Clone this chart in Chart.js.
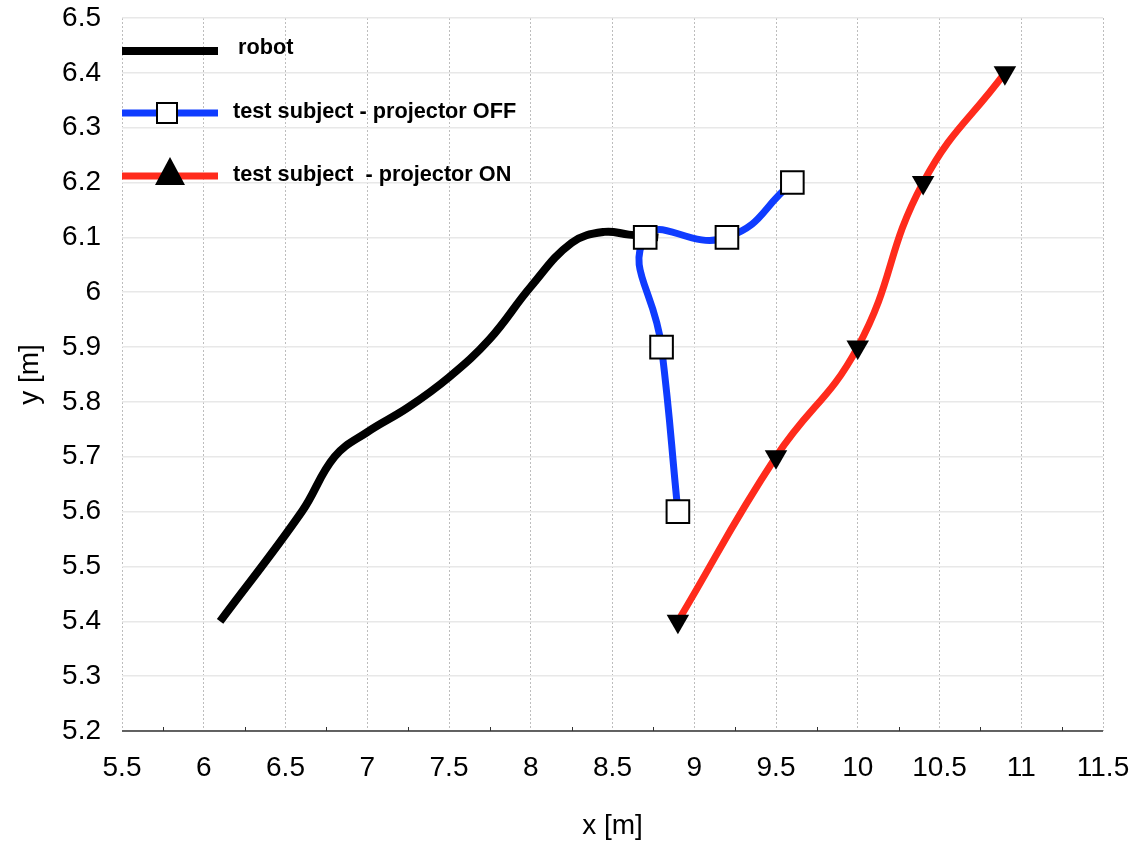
<!DOCTYPE html>
<html>
<head>
<meta charset="utf-8">
<script src="https://cdn.jsdelivr.net/npm/chart.js@4/dist/chart.umd.min.js"></script>
<style>
  html, body { margin: 0; padding: 0; background: #fff; }
  #wrap { width: 1140px; height: 843px; }
</style>
</head>
<body>
<div id="wrap"><canvas id="traj" width="1140" height="843"></canvas></div>
<script>
// trajectories (metres)
const robotX = [6.1, 6.6, 6.8, 7.0, 7.25, 7.5, 7.75, 8.0, 8.25, 8.45, 8.6, 8.78];
const robotY = [5.4, 5.6, 5.7, 5.745, 5.79, 5.845, 5.915, 6.01, 6.09, 6.11, 6.105, 6.1];

const offX = [8.9, 8.8, 8.7, 9.2, 9.6];
const offY = [5.6, 5.9, 6.1, 6.1, 6.2];

const onX = [8.9, 9.5, 10.0, 10.4, 10.9];
const onY = [5.4, 5.7, 5.9, 6.2, 6.4];

const xTicks = [5.5, 6, 6.5, 7, 7.5, 8, 8.5, 9, 9.5, 10, 10.5, 11, 11.5];
const yTicks = [5.2, 5.3, 5.4, 5.5, 5.6, 5.7, 5.8, 5.9, 6, 6.1, 6.2, 6.3, 6.4, 6.5];

const seriesNames = ['robot', 'test subject - projector OFF', 'test subject  - projector ON'];

const BLACK = '#000000';
const BLUE = '#0f3cff';
const RED = '#ff2b1c';

const toPts = (xs, ys) => xs.map((x, i) => ({ x, y: ys[i] }));

// legend drawn inside the plot, top-left, like the original
const legendPlugin = {
  id: 'insideLegend',
  afterDraw(chart) {
    const c = chart.ctx;
    const rows = [
      { y: 51, color: BLACK, marker: null, tx: 238 },
      { y: 113, color: BLUE, marker: 'square', tx: 233 },
      { y: 176, color: RED, marker: 'triangle', tx: 233 }
    ];
    c.save();
    rows.forEach((r, i) => {
      c.strokeStyle = r.color;
      c.lineWidth = i === 0 ? 8 : 7;
      c.beginPath();
      c.moveTo(122, r.y);
      c.lineTo(218, r.y);
      c.stroke();
      if (r.marker === 'square') {
        c.fillStyle = '#fff';
        c.strokeStyle = '#000';
        c.lineWidth = 2;
        c.fillRect(157, r.y - 10, 20, 20);
        c.strokeRect(157, r.y - 10, 20, 20);
      } else if (r.marker === 'triangle') {
        c.fillStyle = '#000';
        c.beginPath();
        c.moveTo(170, r.y - 19);
        c.lineTo(185, r.y + 9);
        c.lineTo(155, r.y + 9);
        c.closePath();
        c.fill();
      }
      c.fillStyle = '#000';
      c.font = 'bold 21.7px "Liberation Sans", Arial, sans-serif';
      c.textBaseline = 'middle';
      c.textAlign = 'left';
      c.fillText(seriesNames[i], r.tx, r.y - (i === 0 ? 3 : 1));
    });
    c.restore();
  }
};

// solid bottom axis line with small ticks between the labelled ones
const bottomAxis = {
  id: 'bottomAxis',
  afterDatasetsDraw(chart) {
    const xs = chart.scales.x;
    const { left, right, bottom } = chart.chartArea;
    const c = chart.ctx;
    c.save();
    c.strokeStyle = '#333';
    c.lineWidth = 1.5;
    c.beginPath();
    c.moveTo(left, bottom);
    c.lineTo(right, bottom);
    c.stroke();
    c.lineWidth = 1;
    for (let i = 0; i < xTicks.length - 1; i++) {
      const mid = (xTicks[i] + xTicks[i + 1]) / 2;
      const px = Math.round(xs.getPixelForValue(mid)) + 0.5;
      c.beginPath();
      c.moveTo(px, bottom);
      c.lineTo(px, bottom - 4);
      c.stroke();
    }
    c.restore();
  }
};

const tickFont = { family: '"Liberation Sans", Arial, sans-serif', size: 28 };
const titleFont = { family: '"Liberation Sans", Arial, sans-serif', size: 28 };

new Chart(document.getElementById('traj'), {
  type: 'scatter',
  data: {
    datasets: [
      {
        label: seriesNames[0],
        data: toPts(robotX, robotY),
        showLine: true,
        borderColor: BLACK,
        borderWidth: 8,
        pointRadius: 0,
        tension: 0.4,
        order: 3
      },
      {
        label: seriesNames[1],
        data: toPts(offX, offY),
        showLine: true,
        borderColor: BLUE,
        borderWidth: 7,
        tension: 0.5,
        pointStyle: 'rect',
        pointRadius: 16,
        pointBackgroundColor: '#fff',
        pointBorderColor: '#000',
        pointBorderWidth: 2,
        order: 1
      },
      {
        label: seriesNames[2],
        data: toPts(onX, onY),
        showLine: true,
        borderColor: RED,
        borderWidth: 7,
        tension: 0.45,
        pointStyle: 'triangle',
        pointRotation: 180,
        pointRadius: 13,
        pointBackgroundColor: '#000',
        pointBorderColor: '#000',
        pointBorderWidth: 0,
        order: 2
      }
    ]
  },
  options: {
    responsive: false,
    animation: false,
    layout: { padding: { top: 16, right: 37, left: 0, bottom: 0 } },
    plugins: {
      legend: { display: false },
      tooltip: { enabled: false }
    },
    scales: {
      x: {
        type: 'linear',
        min: 5.5,
        max: 11.5,
        afterBuildTicks: (s) => { s.ticks = xTicks.map(v => ({ value: v })); },
        afterFit: (s) => {
          s.height = 112;
          s.paddingLeft = 0;
          s.paddingRight = 0;
        },
        ticks: {
          color: '#000',
          font: tickFont,
          padding: 20,
          maxRotation: 0,
          callback: (v) => String(v)
        },
        grid: {
          color: '#bdbdbd',
          lineWidth: 1,
          drawTicks: false
        },
        border: { display: false, dash: [2, 2] },
        title: {
          display: true,
          text: 'x [m]',
          color: '#000',
          font: titleFont,
          padding: { top: 20, bottom: 0 }
        }
      },
      y: {
        type: 'linear',
        min: 5.2,
        max: 6.5,
        afterBuildTicks: (s) => { s.ticks = yTicks.map(v => ({ value: v })); },
        afterFit: (s) => {
          s.width = 122;
          s.paddingTop = 0;
          s.paddingBottom = 0;
        },
        ticks: {
          color: '#000',
          font: tickFont,
          padding: 21,
          callback: (v) => String(v)
        },
        grid: {
          color: '#e8e8e8',
          lineWidth: 1.5,
          drawTicks: false
        },
        border: { display: false },
        title: {
          display: true,
          text: 'y [m]',
          color: '#000',
          font: titleFont,
          padding: { top: 13, bottom: 0 }
        }
      }
    }
  },
  plugins: [bottomAxis, legendPlugin]
});
</script>
</body>
</html>
